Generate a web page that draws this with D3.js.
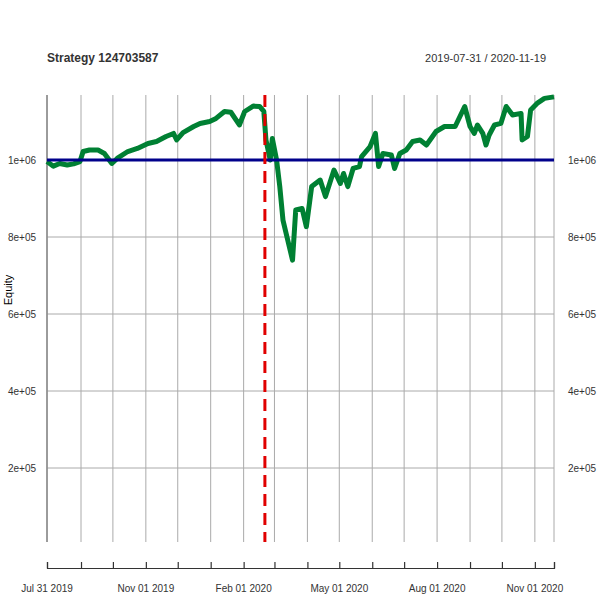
<!DOCTYPE html><html><head><meta charset="utf-8">
<script src="https://cdn.jsdelivr.net/npm/d3@7"></script>
<style>body{margin:0;background:#fff}text{font-family:"Liberation Sans",Arial,sans-serif}</style></head><body>
<svg id="c" width="600" height="600"></svg>
<script>
const dates=["2019-07-31","2019-08-06","2019-08-12","2019-08-19","2019-08-25","2019-08-31","2019-09-03","2019-09-09","2019-09-17","2019-09-23","2019-09-30","2019-10-05","2019-10-15","2019-10-24","2019-11-03","2019-11-11","2019-11-20","2019-11-27","2019-11-30","2019-12-06","2019-12-16","2019-12-22","2019-12-31","2020-01-06","2020-01-14","2020-01-20","2020-01-28","2020-02-02","2020-02-10","2020-02-16","2020-02-20","2020-02-22","2020-02-26","2020-02-28","2020-03-03","2020-03-06","2020-03-09","2020-03-12","2020-03-18","2020-03-21","2020-03-27","2020-03-31","2020-04-05","2020-04-13","2020-04-18","2020-04-26","2020-05-02","2020-05-05","2020-05-09","2020-05-14","2020-05-20","2020-05-22","2020-05-30","2020-06-04","2020-06-07","2020-06-11","2020-06-19","2020-06-22","2020-06-27","2020-07-03","2020-07-09","2020-07-16","2020-07-22","2020-07-31","2020-08-08","2020-08-18","2020-08-27","2020-09-01","2020-09-05","2020-09-08","2020-09-13","2020-09-16","2020-09-19","2020-09-24","2020-09-30","2020-10-05","2020-10-11","2020-10-19","2020-10-20","2020-10-25","2020-10-28","2020-11-03","2020-11-10","2020-11-19"];
const equity=[996,984,991,987,990,996,1022,1026,1026,1017,991,1004,1022,1030,1043,1048,1061,1069,1052,1071,1087,1095,1100,1108,1126,1124,1091,1126,1140,1139,1126,1052,1000,1056,1000,931,844,809,740,870,874,827,931,948,905,974,939,965,931,978,983,1009,1035,1069,983,1017,1013,978,1017,1026,1048,1052,1039,1074,1087,1087,1139,1087,1069,1091,1069,1039,1065,1091,1095,1139,1117,1121,1052,1061,1130,1147,1160,1164].map(v=>v*1000);
const monthTicks=["2019-07-31","2019-09-01","2019-10-01","2019-11-01","2019-12-01","2020-01-01","2020-02-01","2020-03-01","2020-04-01","2020-05-01","2020-06-01","2020-07-01","2020-08-01","2020-09-01","2020-10-01","2020-11-01","2020-11-19"];
const labelTicks=["2019-07-31","2019-11-01","2020-02-01","2020-05-01","2020-08-01","2020-11-01"];
const labelText=["Jul 31 2019","Nov 01 2019","Feb 01 2020","May 01 2020","Aug 01 2020","Nov 01 2020"];
const yTicks=[200000,400000,600000,800000,1000000];
const yLabels=["2e+05","4e+05","6e+05","8e+05","1e+06"];
const baseline=1000000, eventDate="2020-02-21";
const title="Strategy 124703587", range="2019-07-31 / 2020-11-19";

const P=d3.timeParse("%Y-%m-%d");
const svg=d3.select("#c");
const x=d3.scaleTime().domain([P(dates[0]),P(dates[dates.length-1])]).range([47,554]);
const y=d3.scaleLinear().domain([0,1000000]).range([545,160]);
const yTop=95,yBot=542;
svg.append("text").attr("x",47).attr("y",62).attr("font-size",12).attr("font-weight","bold").attr("fill","#333").text(title);
svg.append("text").attr("x",546).attr("y",62).attr("font-size",11).attr("text-anchor","end").attr("fill","#333").text(range);
svg.append("text").attr("transform","translate(12,290) rotate(-90)").attr("font-size",11).attr("text-anchor","middle").text("Equity");
const g=svg.append("g");
monthTicks.forEach(d=>g.append("line").attr("x1",x(P(d))).attr("x2",x(P(d))).attr("y1",yTop).attr("y2",yBot).attr("stroke","#aaa").attr("stroke-width",1));
yTicks.forEach((t,i)=>{
 g.append("line").attr("x1",47).attr("x2",554).attr("y1",y(t)).attr("y2",y(t)).attr("stroke","#aaa");
 svg.append("text").attr("x",22).attr("y",y(t)+4).attr("font-size",10).attr("text-anchor","middle").attr("fill","#333").text(yLabels[i]);
 svg.append("text").attr("x",582).attr("y",y(t)+4).attr("font-size",10).attr("text-anchor","middle").attr("fill","#333").text(yLabels[i]);
});
g.append("line").attr("x1",47).attr("x2",47).attr("y1",yTop).attr("y2",yBot).attr("stroke","#888").attr("stroke-width",1.5);
const xa=svg.append("g").attr("transform","translate(0,568)").call(d3.axisTop(x).tickValues(monthTicks.map(P)).tickSize(6).tickFormat(""));
xa.selectAll("line,path").attr("stroke","#333").attr("stroke-width",1.2);
labelTicks.forEach((d,i)=>svg.append("text").attr("x",x(P(d))).attr("y",592).attr("font-size",10).attr("text-anchor","middle").attr("fill","#333").text(labelText[i]));
svg.append("path").datum(dates.map((d,i)=>[P(d),equity[i]])).attr("fill","none").attr("stroke","#008033").attr("stroke-width",5).attr("stroke-linejoin","round")
 .attr("d",d3.line().x(d=>x(d[0])).y(d=>y(d[1])));
svg.append("line").attr("x1",47).attr("x2",554).attr("y1",y(baseline)).attr("y2",y(baseline)).attr("stroke","#00008B").attr("stroke-width",3);
svg.append("line").attr("x1",x(P(eventDate))).attr("x2",x(P(eventDate))).attr("y1",yTop).attr("y2",yBot).attr("stroke","#e00000").attr("stroke-width",3).attr("stroke-dasharray","12,7");
</script></body></html>
